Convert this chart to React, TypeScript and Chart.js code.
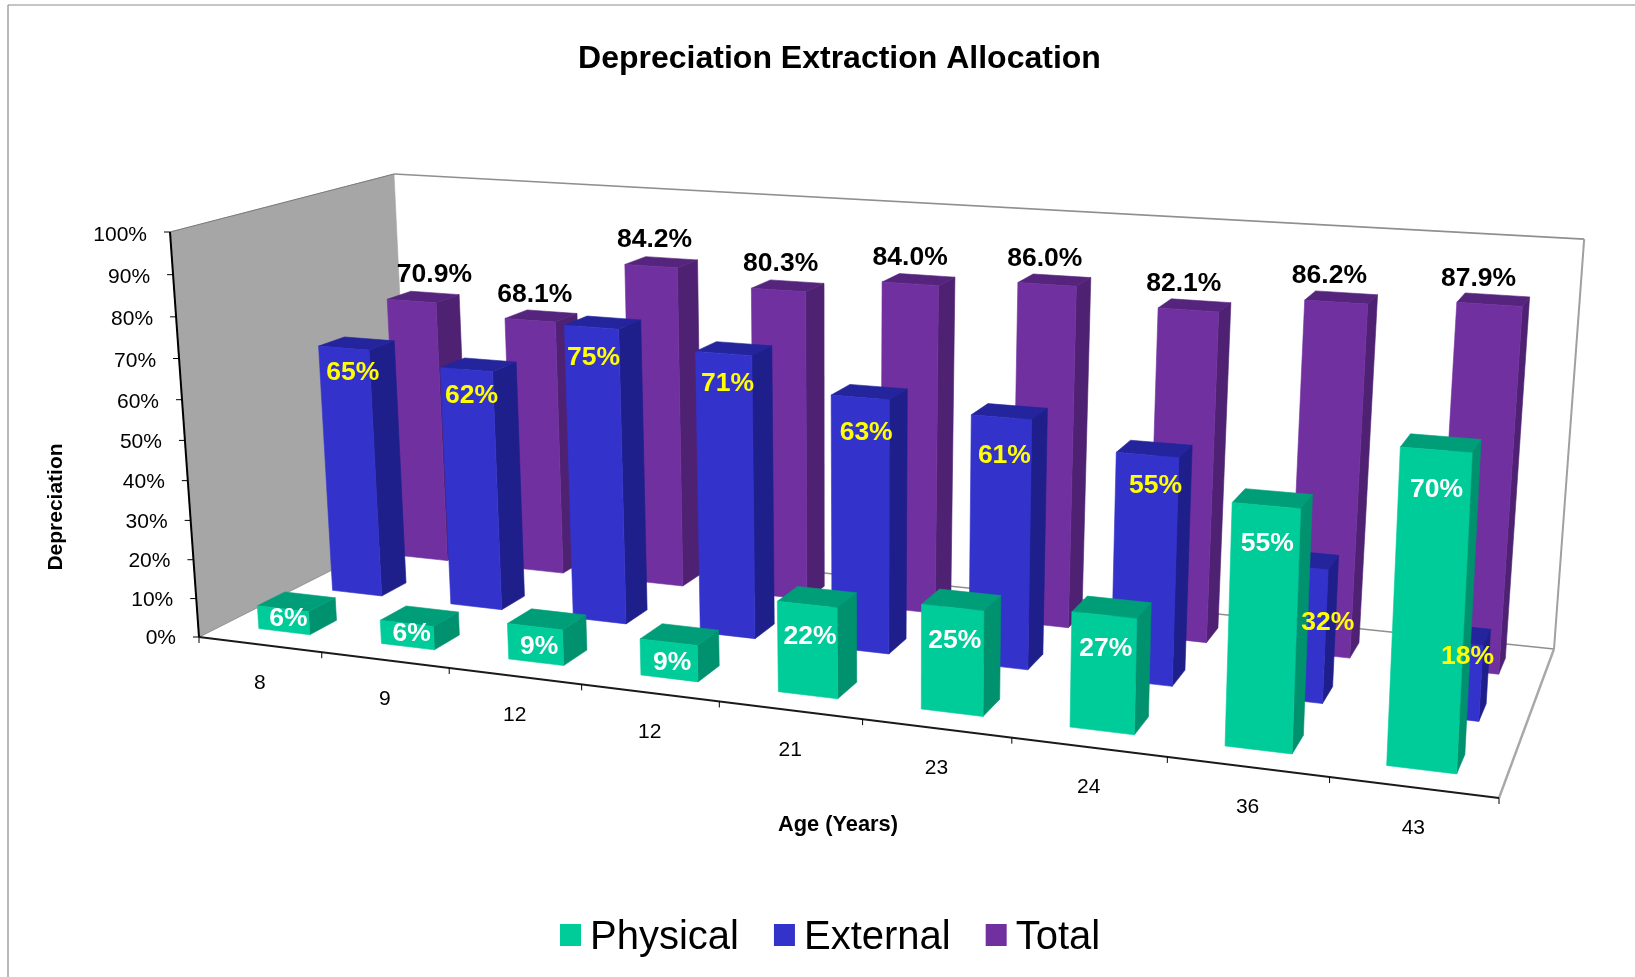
import React, { useEffect, useRef } from "react";
import { Chart, registerables } from "chart.js";

Chart.register(...registerables);

const titleText = "Depreciation Extraction Allocation";
const xAxisTitle = "Age (Years)";
const yAxisTitle = "Depreciation";
const ages = ["8", "9", "12", "12", "21", "23", "24", "36", "43"];
const physical = [6, 6, 9, 9, 22, 25, 27, 55, 70];
const external = [65, 62, 75, 71, 63, 61, 55, 32, 18];
const total = [70.9, 68.1, 84.2, 80.3, 84.0, 86.0, 82.1, 86.2, 87.9];

type Pt = [number, number];

// Screen corners of the floor: front-left, front-right, back-right, back-left.
const floorCorners: Pt[] = [[199, 637], [1499, 798], [1554, 649], [411, 530]];
// Ceiling corners: front-left, front-right, back-left. The fourth follows from the floor's perspective.
const ceilCorners: Pt[] = [[170, 232], [1523, 320], [394, 174]];
// Vertical foreshortening of the camera: upper parts of the box look slightly longer.
const heightPerspective = 0.06;

function perspectiveOf(q: Pt[]) {
  const [A, B, C, D] = q;
  const sx = A[0] - B[0] + C[0] - D[0];
  const sy = A[1] - B[1] + C[1] - D[1];
  const dx1 = B[0] - C[0], dy1 = B[1] - C[1];
  const dx2 = D[0] - C[0], dy2 = D[1] - C[1];
  const den = dx1 * dy2 - dx2 * dy1;
  return { g: (sx * dy2 - dx2 * sy) / den, h: (dx1 * sy - sx * dy1) / den };
}

const { g, h } = perspectiveOf(floorCorners);

// Plane through three corners, sharing the floor's vanishing points.
function planeMap(A: Pt, B: Pt, D: Pt) {
  return (u: number, v: number): Pt => {
    const d = 1 + g * u + h * v;
    return [
      (A[0] + u * (B[0] * (1 + g) - A[0]) + v * (D[0] * (1 + h) - A[0])) / d,
      (A[1] + u * (B[1] * (1 + g) - A[1]) + v * (D[1] * (1 + h) - A[1])) / d,
    ];
  };
}

const floorMap = planeMap(floorCorners[0], floorCorners[1], floorCorners[3]);
const ceilMap = planeMap(ceilCorners[0], ceilCorners[1], ceilCorners[2]);

function project(u: number, v: number, w: number): Pt {
  const a = floorMap(u, v);
  const b = ceilMap(u, v);
  const t = w / (1 + heightPerspective * (1 - w));
  return [a[0] + (b[0] - a[0]) * t, a[1] + (b[1] - a[1]) * t];
}

function polygon(ctx: CanvasRenderingContext2D, pts: Pt[], fill: string) {
  ctx.beginPath();
  pts.forEach((p, i) => (i ? ctx.lineTo(p[0], p[1]) : ctx.moveTo(p[0], p[1])));
  ctx.closePath();
  ctx.fillStyle = fill;
  ctx.fill();
  ctx.strokeStyle = fill;
  ctx.lineWidth = 0.6;
  ctx.stroke();
}

function stroke(ctx: CanvasRenderingContext2D, a: Pt, b: Pt, color: string, width: number) {
  ctx.beginPath();
  ctx.moveTo(a[0], a[1]);
  ctx.lineTo(b[0], b[1]);
  ctx.strokeStyle = color;
  ctx.lineWidth = width;
  ctx.stroke();
}

const SANS = '"Liberation Sans", Arial, sans-serif';

const rowDepth = 1 / 3;
const barFrontInset = 0.105;
const barDepth = 0.12;

const faceShades = [
  { side: "#00916E", top: "#009E78" },
  { side: "#1F1F8C", top: "#24249C" },
  { side: "#4F2172", top: "#55247C" },
];

// Hand-placed labels: [dx, dy] from the top of the front face.
const externalLabelOffsets: Pt[] = [[9, 25], [5, 26], [2, 30], [4, 30], [6, 35], [3, 38], [8, 31], [32, 56], [18, 15]];
const totalLabelShift = [0, -14, -11, -8, -6, -4, -2, 0, 0];

// Legend row placed by hand below the plot
const legendLayout = { left: 560, y: 935, box: 21, boxH: 22, textGap: 9, itemGap: 35, size: 40 };

const box3d = {
  id: "box3d",
  beforeDraw(chart: any) {
    const ctx = chart.ctx;
    ctx.save();
    ctx.fillStyle = "#ffffff";
    ctx.fillRect(0, 0, chart.width, chart.height);
    stroke(ctx, [8, 977], [8, 5], "#8c8c8c", 1.2);
    stroke(ctx, [8, 5], [1635, 5], "#8c8c8c", 1.2);
    ctx.restore();
  },
  beforeDatasetsDraw(chart: any) {
    const ctx: CanvasRenderingContext2D = chart.ctx;
    const xs = chart.scales.x;
    const ys = chart.scales.y;
    const toU = (px: number) => (px - xs.left) / xs.width;
    const toW = (px: number) => (ys.bottom - px) / ys.height;
    ctx.save();

    // Side wall, back wall and floor outline
    polygon(ctx, [project(0, 0, 0), project(0, 1, 0), project(0, 1, 1), project(0, 0, 1)], "#A6A6A6");
    const grey = "#8f8f8f";
    stroke(ctx, project(0, 1, 1), project(1, 1, 1), grey, 1.6);
    stroke(ctx, project(1, 1, 1), project(1, 1, 0), "#a0a0a0", 2);
    stroke(ctx, project(0, 1, 0), project(1, 1, 0), grey, 1.4);
    stroke(ctx, project(1, 1, 0), project(1, 0, 0), "#a8a8a8", 2.4);
    stroke(ctx, project(0, 0, 0), project(0, 1, 0), "#9a9a9a", 1.2);
    stroke(ctx, project(0, 0, 1), project(0, 1, 1), "#7a7a7a", 1);

    // Value axis with ticks and labels
    stroke(ctx, project(0, 0, 0), project(0, 0, 1), "#000000", 2);
    ctx.font = `21px ${SANS}`;
    ctx.fillStyle = "#000000";
    ctx.textAlign = "right";
    ctx.textBaseline = "middle";
    ys.ticks.forEach((t: any) => {
      const w = toW(ys.getPixelForValue(t.value));
      const p = project(0, 0, w);
      stroke(ctx, p, [p[0] - 6, p[1]], "#000000", 1);
      ctx.fillStyle = "#000000";
      ctx.fillText(`${t.value}%`, p[0] - 23, p[1] + 1 + 2 * w);
    });

    // Category axis with ticks and labels
    stroke(ctx, project(0, 0, 0), project(1, 0, 0), "#1a1a1a", 2);
    const step = xs.width / ages.length;
    ctx.textAlign = "center";
    ages.forEach((_, i) => {
      const center = xs.getPixelForValue(i);
      const tick = project(toU(center + step / 2), 0, 0);
      stroke(ctx, tick, [tick[0], tick[1] + 6], "#000000", 1);
      const u = toU(center);
      const p = project(u, 0, 0);
      ctx.fillStyle = "#000000";
      ctx.fillText(xs.getLabelForValue(i), p[0], p[1] + 39 + 2 * u);
    });
    const first = project(0, 0, 0);
    stroke(ctx, first, [first[0], first[1] + 6], "#000000", 1);

    // Bars, back row first
    const count = chart.data.datasets.length;
    for (let d = count - 1; d >= 0; d--) {
      const meta = chart.getDatasetMeta(d);
      const v0 = d * rowDepth + barFrontInset;
      const v1 = v0 + barDepth;
      meta.data.forEach((bar: any) => {
        const u0 = toU(bar.x - bar.width / 2);
        const u1 = toU(bar.x + bar.width / 2);
        const w = toW(bar.y);
        polygon(ctx, [project(u1, v0, 0), project(u1, v1, 0), project(u1, v1, w), project(u1, v0, w)], faceShades[d].side);
        polygon(ctx, [project(u0, v0, w), project(u1, v0, w), project(u1, v1, w), project(u0, v1, w)], faceShades[d].top);
        polygon(ctx, [project(u0, v0, 0), project(u1, v0, 0), project(u1, v0, w), project(u0, v0, w)], chart.data.datasets[d].backgroundColor);
      });
    }

    // Value labels sit above all bars
    ctx.font = `bold 26.5px ${SANS}`;
    ctx.textAlign = "center";
    ctx.textBaseline = "middle";
    for (let d = 0; d < count; d++) {
      const meta = chart.getDatasetMeta(d);
      const values = chart.data.datasets[d].data;
      const v0 = d * rowDepth + barFrontInset;
      meta.data.forEach((bar: any, i: number) => {
        const u = toU(bar.x);
        const w = toW(bar.y);
        const topPt = project(u, v0, w);
        const basePt = project(u, v0, 0);
        const barH = basePt[1] - topPt[1];
        let dx = 0;
        let dy = 0;
        if (d === 0) {
          dx = 6 * (1 - u);
          dy = Math.min(barH * 0.8 - 8, 29 + barH * 0.035);
          ctx.fillStyle = "#ffffff";
        } else if (d === 1) {
          [dx, dy] = externalLabelOffsets[i];
          ctx.fillStyle = "#ffff00";
        } else {
          dx = 25 - 38 * u + totalLabelShift[i];
          dy = -26;
          ctx.fillStyle = "#000000";
        }
        const text = d === 2 ? `${values[i].toFixed(1)}%` : `${values[i]}%`;
        ctx.fillText(text, topPt[0] + dx, topPt[1] + dy);
      });
    }

    // Axis titles
    ctx.fillStyle = "#000000";
    ctx.font = `bold 21.8px ${SANS}`;
    ctx.fillText(xAxisTitle, 838, 825);
    ctx.font = `bold 21px ${SANS}`;
    ctx.save();
    ctx.translate(56, 507);
    ctx.rotate(-Math.PI / 2);
    ctx.fillText(yAxisTitle, 0, 0);
    ctx.restore();

    // Legend: swatch and series name for every dataset
    const L = legendLayout;
    let x = L.left;
    ctx.font = `${L.size}px ${SANS}`;
    ctx.textAlign = "left";
    chart.data.datasets.forEach((ds: any) => {
      ctx.fillStyle = ds.backgroundColor;
      ctx.fillRect(x, L.y - L.boxH / 2, L.box, L.boxH);
      ctx.fillStyle = "#000000";
      const tx = x + L.box + L.textGap;
      ctx.fillText(ds.label, tx, L.y + 3);
      x = tx + ctx.measureText(ds.label).width + L.itemGap;
    });

    ctx.restore();
    return false;
  },
};

export default function App() {
  const ref = useRef<HTMLCanvasElement | null>(null);
  useEffect(() => {
    if (!ref.current) return;
    const chart = new Chart(ref.current, {
      type: "bar",
      data: {
        labels: ages,
        datasets: [
          { label: "Physical", data: physical, backgroundColor: "#00CC99" },
          { label: "External", data: external, backgroundColor: "#3333CC" },
          { label: "Total", data: total, backgroundColor: "#7030A0" },
        ],
      },
      options: {
        responsive: false,
        animation: false,
        layout: { padding: { left: 44, top: 40, bottom: 14 } },
        datasets: { bar: { grouped: false, categoryPercentage: 1, barPercentage: 0.42 } },
        scales: {
          x: { display: false },
          y: { display: false, min: 0, max: 100, ticks: { stepSize: 10 } },
        },
        plugins: {
          title: {
            display: true,
            text: titleText,
            color: "#000000",
            font: { family: SANS, size: 32, weight: "bold" },
            padding: { top: 0, bottom: 8 },
          },
          legend: { display: false },
          tooltip: { enabled: false },
        },
      },
      plugins: [box3d],
    } as any);
    return () => chart.destroy();
  }, []);
  return (
    <div style={{ position: "absolute", left: 0, top: 0 }}>
      <canvas ref={ref} width={1635} height={977} style={{ display: "block" }} />
    </div>
  );
}
